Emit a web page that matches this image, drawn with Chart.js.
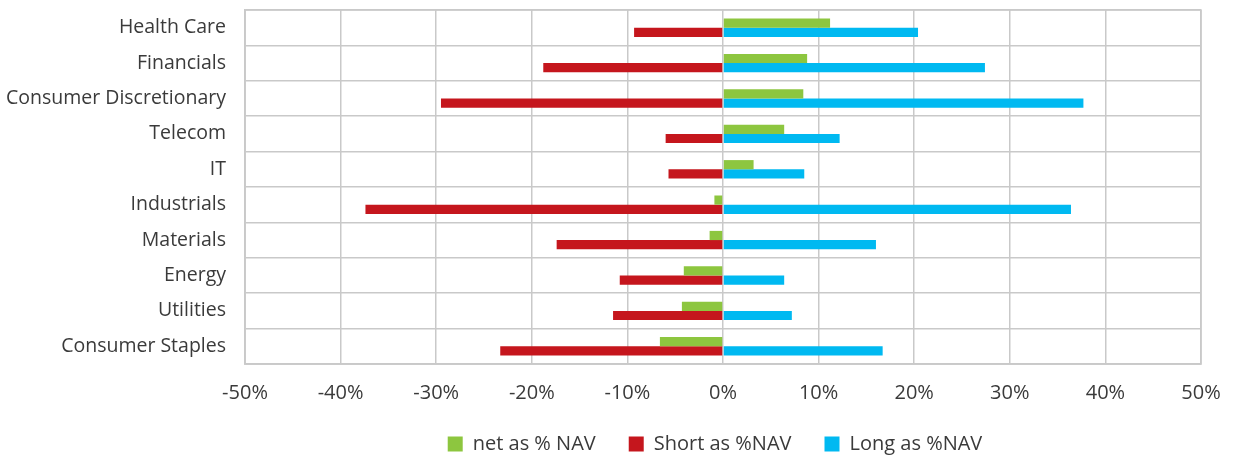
<!DOCTYPE html>
<html>
<head>
<meta charset="utf-8">
<script src="https://cdn.jsdelivr.net/npm/chart.js@4.4.1/dist/chart.umd.min.js"></script>
<style>
  html, body { margin: 0; padding: 0; background: #ffffff; }
  #wrap { width: 1233px; height: 456px; position: relative; }
</style>
</head>
<body>
<div id="wrap"><canvas id="chart" width="1233" height="456"></canvas></div>
<script>
// Sector exposure, % of NAV
const sectors = ['Health Care', 'Financials', 'Consumer Discretionary', 'Telecom', 'IT',
                 'Industrials', 'Materials', 'Energy', 'Utilities', 'Consumer Staples'];
const netPct   = [11.2, 8.8, 8.4, 6.4, 3.2, -0.9, -1.4, -4.1, -4.3, -6.6];
const shortPct = [-9.3, -18.8, -29.5, -6.0, -5.7, -37.4, -17.4, -10.8, -11.5, -23.3];
const longPct  = [20.4, 27.4, 37.7, 12.2, 8.5, 36.4, 16.0, 6.4, 7.2, 16.7];
const xTicks   = [-50, -40, -30, -20, -10, 0, 10, 20, 30, 40, 50];

const FONT = '"Open Sans", "DejaVu Sans", sans-serif';
const TEXT = '#3a3a3a';
const GRID = '#c9c9c9';

new Chart(document.getElementById('chart'), {
  type: 'bar',
  data: {
    labels: sectors,
    datasets: [
      { label: 'net as % NAV',   data: netPct,   backgroundColor: '#8dc63f', stack: 'net' },
      { label: 'Short as %NAV',  data: shortPct, backgroundColor: '#c5161d', stack: 'gross' },
      { label: 'Long as %NAV',   data: longPct,  backgroundColor: '#00b9f1', stack: 'gross' }
    ]
  },
  options: {
    indexAxis: 'y',
    responsive: false,
    animation: false,
    categoryPercentage: 0.52,
    barPercentage: 1.0,
    layout: { padding: { top: 10, right: 32, left: 0, bottom: -8 } },
    plugins: {
      legend: {
        position: 'bottom',
        fullSize: false,
        labels: {
          font: { family: FONT, size: 20 },
          color: TEXT,
          boxWidth: 15,
          boxHeight: 15,
          padding: 33
        }
      },
      tooltip: { enabled: false }
    },
    scales: {
      x: {
        stacked: true,
        min: xTicks[0],
        max: xTicks[xTicks.length - 1],
        afterBuildTicks: (scale) => { scale.ticks = xTicks.map(v => ({ value: v })); },
        grid: { color: GRID, lineWidth: 1.5, drawTicks: false },
        border: { color: GRID, width: 1.5 },
        ticks: {
          callback: (v) => v + '%',
          font: { family: FONT, size: 20 },
          color: TEXT,
          padding: 17
        },
        afterFit: (scale) => {
          scale.height = 37;
          scale.paddingLeft = 0;
          scale.paddingRight = 0;
        }
      },
      y: {
        stacked: true,
        grid: { color: GRID, lineWidth: 1.5, drawTicks: false, offset: true },
        border: { color: GRID, width: 1.5 },
        ticks: {
          font: { family: FONT, size: 19.5 },
          color: TEXT,
          padding: 19
        },
        afterFit: (scale) => {
          scale.width = 245;
          scale.paddingTop = 0;
          scale.paddingBottom = 0;
        }
      }
    }
  },
  plugins: [{
    // nudge the legend row a little to the left under the plot
    id: 'legendNudge',
    afterLayout(chart) {
      if (chart.legend) {
        chart.legend.left -= 8;
        chart.legend.right -= 8;
      }
    }
  }, {
    id: 'frame',
    afterDraw(chart) {
      const { ctx, chartArea: a } = chart;
      ctx.save();
      ctx.strokeStyle = GRID;
      ctx.lineWidth = 1.5;
      ctx.strokeRect(a.left, a.top, a.right - a.left, a.bottom - a.top);
      ctx.restore();
    }
  }]
});
</script>
</body>
</html>
